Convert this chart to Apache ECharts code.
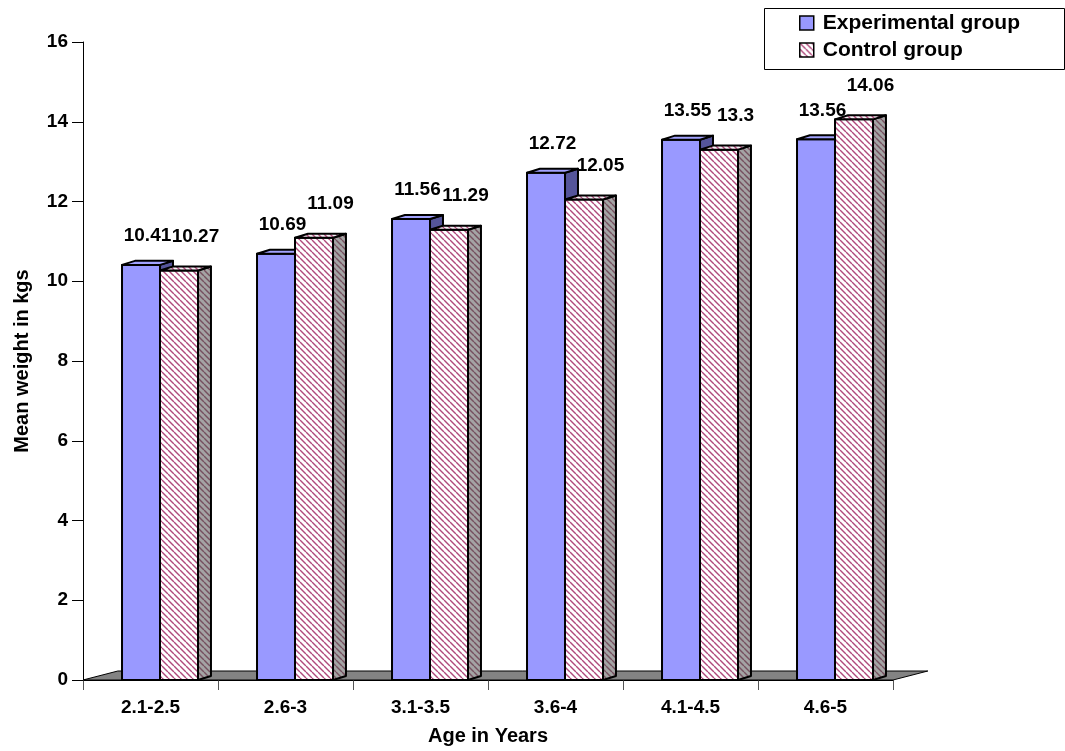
<!DOCTYPE html>
<html>
<head>
<meta charset="utf-8">
<script src="https://cdn.jsdelivr.net/npm/echarts@6/dist/echarts.min.js"></script>
<style>
  html, body { margin: 0; padding: 0; background: #fff; }
  #chart { width: 1065px; height: 751px; }
</style>
</head>
<body>
<div id="chart"></div>
<script>
// Mean body weight (kg) by age band
const ageGroups = ['2.1-2.5', '2.6-3', '3.1-3.5', '3.6-4', '4.1-4.5', '4.6-5'];
const experimentalGroup = [10.41, 10.69, 11.56, 12.72, 13.55, 13.56];
const controlGroup = [10.27, 11.09, 11.29, 12.05, 13.3, 14.06];
const seriesNames = ['Experimental group', 'Control group'];
const weightAxis = { min: 0, max: 16, step: 2 };

const FONT = "'Liberation Sans', Arial, sans-serif";

// Diagonal hatch tile used for the control bars
function hatch(bg, stripe, size, width) {
  const c = document.createElement('canvas');
  c.width = c.height = size;
  const g = c.getContext('2d');
  g.fillStyle = bg;
  g.fillRect(0, 0, size, size);
  g.strokeStyle = stripe;
  g.lineWidth = width;
  g.beginPath();
  for (let k = -1; k <= 1; k++) {
    g.moveTo(k * size, 0);
    g.lineTo(k * size + size, size);
  }
  g.stroke();
  return c;
}

const hatchFront = { image: hatch('#ffffff', '#b04a7c', 6, 1.4), repeat: 'repeat' };
const hatchTop = { image: hatch('#f6f0f4', '#b04a7c', 6, 1.4), repeat: 'repeat' };
const hatchSide = { image: hatch('#a4a4a4', '#76505f', 6, 1.4), repeat: 'repeat' };

const faces = [
  { front: '#9999ff', top: '#a3a3ff', side: '#55559a' },
  { front: hatchFront, top: hatchTop, side: hatchSide }
];

// bar geometry as fractions of the category band
const BAR_W = 0.2815;
const SLOT = [-0.211, 0.0704];     // left edge of each bar relative to band centre
const DEPTH_X = 0.096, DEPTH_Y = -0.03;
const LABEL_SHIFT = [[0, -29], [10, -34]];

function barRenderer(s) {
  return function (params, api) {
    const cat = api.value(0);
    const val = api.value(1);
    const top = api.coord([cat, val]);
    const base = api.coord([cat, 0]);
    const band = api.size([1, 0])[0];
    const w = band * BAR_W;
    const dx = band * DEPTH_X, dy = band * DEPTH_Y;
    const x0 = top[0] + SLOT[s] * band;
    const y0 = top[1], y1 = base[1];
    const f = faces[s];
    const edge = { stroke: '#000', lineWidth: 2, lineJoin: 'round' };
    return {
      type: 'group',
      children: [
        { type: 'rect', shape: { x: x0, y: y0, width: w, height: y1 - y0 },
          style: Object.assign({ fill: f.front }, edge) },
        { type: 'polygon', shape: { points: [[x0 + w, y0], [x0 + w + dx, y0 + dy], [x0 + w + dx, y1 + dy], [x0 + w, y1]] },
          style: Object.assign({ fill: f.side }, edge) },
        { type: 'polygon', shape: { points: [[x0, y0], [x0 + w, y0], [x0 + w + dx, y0 + dy], [x0 + dx, y0 + dy]] },
          style: Object.assign({ fill: f.top }, edge) },
        { type: 'text', x: x0 + w / 2 + dx / 2 + LABEL_SHIFT[s][0], y: y0 + LABEL_SHIFT[s][1], z2: 10,
          style: { text: String(val), fill: '#000', font: 'bold 19px ' + FONT, align: 'center', verticalAlign: 'middle' } }
      ]
    };
  };
}

// grey floor under the bars
function floorRenderer(params, api) {
  const band = api.size([1, 0])[0];
  const first = api.coord([0, 0]);
  const last = api.coord([ageGroups.length - 1, 0]);
  const l = first[0] - band / 2, r = last[0] + band / 2, y = first[1];
  const dx = band * 0.258, dy = -9;
  return {
    type: 'polygon',
    shape: { points: [[l, y], [r, y], [r + dx, y + dy], [l + dx, y + dy]] },
    style: { fill: '#838383', stroke: '#000', lineWidth: 1 }
  };
}

const chart = echarts.init(document.getElementById('chart'), null, { renderer: 'canvas' });

chart.setOption({
  animation: false,
  backgroundColor: '#ffffff',
  textStyle: { fontFamily: FONT },
  grid: { left: 83, right: 172, top: 42, bottom: 69 },
  legend: {
    data: seriesNames,
    orient: 'vertical',
    left: 799,
    top: 12,
    padding: 0,
    icon: 'rect',
    itemWidth: 14,
    itemHeight: 14,
    itemGap: 5,
    selectedMode: false,
    itemStyle: { borderColor: '#000', borderWidth: 1.5 },
    textStyle: { fontFamily: FONT, fontWeight: 'bold', fontSize: 21, color: '#000', lineHeight: 22, padding: [0, 0, 0, 4] }
  },
  graphic: [{
    type: 'rect', left: 764, top: 8, silent: true,
    shape: { width: 300, height: 61 },
    style: { fill: 'transparent', stroke: '#000', lineWidth: 1 }
  }],
  xAxis: {
    type: 'category',
    data: ageGroups,
    name: 'Age in Years',
    nameLocation: 'middle',
    nameGap: 46,
    nameTextStyle: { fontFamily: FONT, fontWeight: 'bold', fontSize: 20, color: '#000' },
    axisLine: { show: true, lineStyle: { color: '#000', width: 1 } },
    axisTick: { show: true, length: 10, lineStyle: { color: '#555' } },
    axisLabel: { fontFamily: FONT, fontWeight: 'bold', fontSize: 19, color: '#000', margin: 18 },
    splitLine: { show: false }
  },
  yAxis: {
    type: 'value',
    min: weightAxis.min,
    max: weightAxis.max,
    interval: weightAxis.step,
    name: 'Mean weight in kgs',
    nameLocation: 'middle',
    nameGap: 51,
    nameTextStyle: { fontFamily: FONT, fontWeight: 'bold', fontSize: 20, color: '#000' },
    axisLine: { show: true, lineStyle: { color: '#000', width: 1 } },
    axisTick: { show: true, length: 11, lineStyle: { color: '#000' } },
    axisLabel: { fontFamily: FONT, fontWeight: 'bold', fontSize: 19, color: '#000', margin: 15 },
    splitLine: { show: false }
  },
  series: [
    {
      type: 'custom',
      name: 'floor',
      silent: true,
      renderItem: floorRenderer,
      data: [[0, 0]],
      encode: { x: 0, y: 1 },
      z: 1
    },
    {
      type: 'custom',
      name: seriesNames[0],
      renderItem: barRenderer(0),
      itemStyle: { color: faces[0].front },
      data: experimentalGroup.map((v, i) => [i, v]),
      encode: { x: 0, y: 1 },
      z: 2
    },
    {
      type: 'custom',
      name: seriesNames[1],
      renderItem: barRenderer(1),
      itemStyle: { color: hatchFront },
      data: controlGroup.map((v, i) => [i, v]),
      encode: { x: 0, y: 1 },
      z: 3
    }
  ]
});
</script>
</body>
</html>
